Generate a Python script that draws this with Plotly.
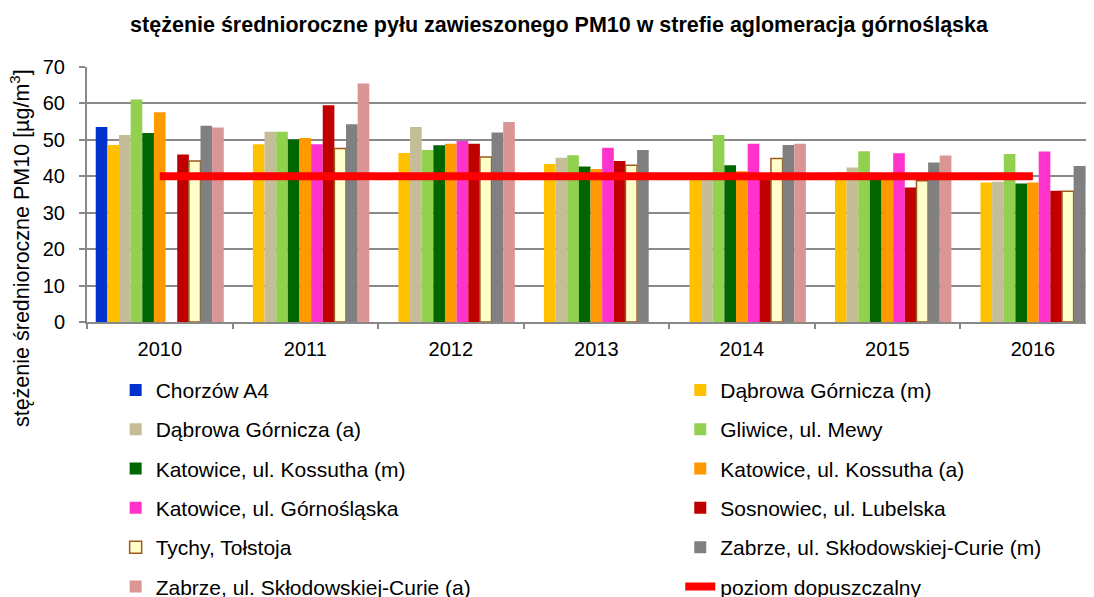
import plotly.graph_objects as go

years = ['2010', '2011', '2012', '2013', '2014', '2015', '2016']

chorzow_a4 = [53.5, None, None, None, None, None, None]
dabrowa_m = [48.6, 48.8, 46.4, 43.4, 40.0, 41.2, 38.3]
dabrowa_a = [51.3, 52.2, 53.5, 45.1, 40.0, 42.4, 38.5]
gliwice = [61.1, 52.2, 47.2, 45.8, 51.3, 46.9, 46.1]
kossutha_m = [51.9, 50.1, 48.5, 42.7, 43.0, 40.0, 38.0]
kossutha_a = [57.6, 50.5, 48.9, 42.0, 41.4, 39.5, 38.3]
gornoslaska = [None, 48.8, 49.7, 47.8, 48.9, 46.3, 46.8]
sosnowiec = [46.0, 59.5, 48.9, 44.2, 40.0, 36.9, 36.0]
tychy = [44.2, 47.6, 45.3, 43.0, 44.9, 38.8, 35.9]
zabrze_m = [53.9, 54.3, 52.0, 47.2, 48.6, 43.8, 42.8]
zabrze_a = [53.4, 65.5, 54.9, None, 48.9, 45.7, 43.0]
limit_value = [40, 40, 40, 40, 40, 40, 40]

series = [
    ("Chorzów A4", chorzow_a4, "#0033CC", "legend"),
    ("Dąbrowa Górnicza (m)", dabrowa_m, "#FFC000", "legend2"),
    ("Dąbrowa Górnicza (a)", dabrowa_a, "#C4BD97", "legend"),
    ("Gliwice, ul. Mewy", gliwice, "#92D050", "legend2"),
    ("Katowice, ul. Kossutha (m)", kossutha_m, "#006600", "legend"),
    ("Katowice, ul. Kossutha (a)", kossutha_a, "#FF9900", "legend2"),
    ("Katowice, ul. Górnośląska", gornoslaska, "#FF33CC", "legend"),
    ("Sosnowiec, ul. Lubelska", sosnowiec, "#C00000", "legend2"),
    ("Tychy, Tołstoja", tychy, "#FFFFCC", "legend"),
    ("Zabrze, ul. Skłodowskiej-Curie (m)", zabrze_m, "#808080", "legend2"),
    ("Zabrze, ul. Skłodowskiej-Curie (a)", zabrze_a, "#D99694", "legend"),
]

FONT = "Liberation Sans, Arial, sans-serif"

fig = go.Figure()
for name, vals, color, lg in series:
    is_tychy = name.startswith("Tychy")
    fig.add_trace(go.Bar(
        x=years, y=vals, name=name,
        marker=dict(color=color,
                    line=dict(color="#9C5A1E" if is_tychy else color,
                              width=1.5 if is_tychy else 0)),
        legend=lg, legendgroup=name,
    ))

fig.add_trace(go.Scatter(
    x=years, y=limit_value, name="poziom dopuszczalny", mode="lines",
    line=dict(color="#FF0000", width=8), legend="legend2",
    legendgroup="limit",
))

legend_common = dict(
    font=dict(family=FONT, size=21, color="#000000"),
    bgcolor="rgba(0,0,0,0)", orientation="v",
    tracegroupgap=9, yanchor="top", xanchor="left",
    xref="container", yref="container",
    traceorder="grouped",
)

fig.update_layout(
    template="none",
    width=1094, height=597,
    margin=dict(l=79, r=8, t=59, b=283, autoexpand=False),
    paper_bgcolor="white", plot_bgcolor="white",
    barmode="group", bargap=0.12, bargroupgap=0,
    title=dict(text="<b>stężenie średnioroczne pyłu zawieszonego PM10 w strefie aglomeracja górnośląska</b>",
               x=0.5037, xanchor="center", y=0.973, yanchor="middle",
               font=dict(family=FONT, size=21.5, color="#000000")),
    font=dict(family=FONT, size=20, color="#000000"),
    xaxis=dict(type="category", range=[-0.5, 6.42], automargin=False,
               showline=True, linecolor="#898989", linewidth=2,
               ticks="outside", tickson="boundaries", ticklen=5,
               tickcolor="#898989", tickwidth=2, ticklabelstandoff=8,
               tickfont=dict(family=FONT, size=20, color="#000000"),
               showgrid=False, zeroline=False),
    yaxis=dict(range=[0, 70], dtick=10, showline=True, automargin=False,
               linecolor="#898989", linewidth=2, ticks="outside",
               ticklen=6, tickcolor="#898989", tickwidth=2,
               ticklabelstandoff=10,
               showgrid=True, gridcolor="#898989", gridwidth=2,
               zeroline=False,
               tickfont=dict(family=FONT, size=20, color="#000000")),
    legend=dict(x=0.0984, y=0.394, **legend_common),
    legend2=dict(x=0.6145, y=0.394, **legend_common),
    annotations=[dict(
        text="stężenie średnioroczne PM10 [µg/m<sup>3</sup>]",
        textangle=-90, xref="paper", yref="paper",
        x=-0.0665, y=0.29, xanchor="center", yanchor="middle",
        showarrow=False, font=dict(family=FONT, size=21.5, color="#000000"),
    )],
)

fig.write_html("out.html")
